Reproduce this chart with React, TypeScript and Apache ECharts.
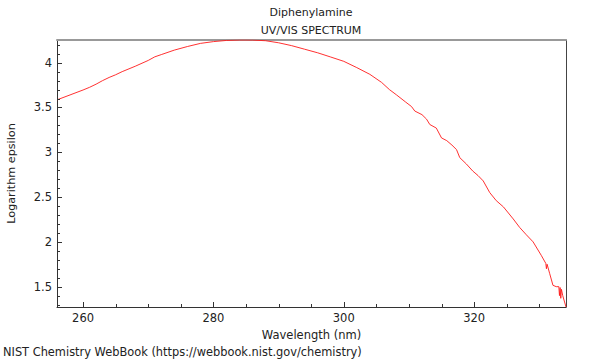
import React, { useEffect, useRef } from "react";
import * as echarts from "echarts";

const wavelengths = [
  256.0, 258, 260, 261, 262, 263, 264, 265, 266, 268, 270, 271, 272, 274, 276, 278, 280, 282, 284, 285, 286, 288, 290,
  292, 294, 296, 298, 300, 302, 304, 305.8, 307, 308.1, 309.5, 310.4, 310.9, 312, 312.7, 313.2, 314.2, 315.0, 315.8,
  316.6, 317.3, 317.8, 318.8, 319.8, 320.6, 321.4, 322.4, 323.4, 324.5, 326.0, 327, 328, 329.05, 330.3, 331.0, 331.1,
  331.2, 331.6, 332.1, 332.6, 333.0, 333.1, 333.2, 333.3, 333.4, 333.6, 334.1,
];
const logEpsilon = [
  3.585, 3.64, 3.695, 3.725, 3.76, 3.8, 3.835, 3.865, 3.9, 3.96, 4.025, 4.065, 4.09, 4.14, 4.18, 4.215, 4.235, 4.248,
  4.253, 4.253, 4.252, 4.245, 4.222, 4.19, 4.15, 4.11, 4.063, 4.015, 3.945, 3.87, 3.78, 3.7, 3.64, 3.56, 3.51, 3.46,
  3.42, 3.37, 3.31, 3.27, 3.16, 3.13, 3.08, 3.03, 2.94, 2.87, 2.79, 2.74, 2.68, 2.55, 2.46, 2.39, 2.256, 2.16, 2.08,
  2.0, 1.85, 1.76, 1.7, 1.75, 1.645, 1.515, 1.5, 1.5, 1.4, 1.49, 1.37, 1.47, 1.4, 1.273,
];

const xMajorTicks = [260, 280, 300, 320];
const xMinorTicks = [265, 270, 275, 285, 290, 295, 305, 310, 315, 325, 330];
const yMajorTicks = [1.5, 2, 2.5, 3, 3.5, 4];
const yMinorTicks = [1.3, 1.4, 1.6, 1.7, 1.8, 1.9, 2.1, 2.2, 2.3, 2.4, 2.6, 2.7, 2.8, 2.9, 3.1, 3.2, 3.3, 3.4, 3.6, 3.7, 3.8, 3.9, 4.1, 4.2];

const X_MIN = 256;
const X_MAX = 334.1;
const Y_MIN = 1.273;
const Y_MAX = 4.253;

const FONT = "DejaVu Sans";
const TICK_COLOR = "#333";

function tickSeries(values: number[], horizontalAxis: boolean, len: number) {
  return {
    type: "custom",
    silent: true,
    clip: false,
    z: 5,
    encode: { x: 0, y: 1 },
    data: values.map((v) => (horizontalAxis ? [v, Y_MIN] : [X_MIN, v])),
    renderItem: (_params: any, api: any) => {
      const p = api.coord([api.value(0), api.value(1)]);
      if (horizontalAxis) {
        const x = Math.round(p[0]) + 0.5;
        const y = Math.round(p[1]);
        return { type: "line", shape: { x1: x, y1: y, x2: x, y2: y - len }, style: { stroke: TICK_COLOR, lineWidth: 1 } };
      }
      const x = Math.round(p[0]);
      const y = Math.round(p[1]) + 0.5;
      return { type: "line", shape: { x1: x, y1: y, x2: x + len, y2: y }, style: { stroke: TICK_COLOR, lineWidth: 1 } };
    },
  };
}

export default function App() {
  const ref = useRef<HTMLDivElement>(null);
  useEffect(() => {
    document.body.style.margin = "0";
    const chart = echarts.init(ref.current!, null, { renderer: "svg" });
    const axisBase = { type: "value" as const, min: X_MIN, max: X_MAX, splitLine: { show: false } };
    const yBase = { type: "value" as const, min: Y_MIN, max: Y_MAX, splitLine: { show: false } };
    chart.setOption({
      animation: false,
      backgroundColor: "#fff",
      grid: { left: 57, right: 34, top: 40, bottom: 53, containLabel: false, outerBoundsMode: "none" },
      graphic: [
        { type: "text", x: 311, y: 12, style: { text: "Diphenylamine", font: `11px '${FONT}'`, fill: "#222", textAlign: "center", textVerticalAlign: "middle" } },
        { type: "text", x: 311, y: 30, style: { text: "UV/VIS SPECTRUM", font: `11px '${FONT}'`, fill: "#222", textAlign: "center", textVerticalAlign: "middle" } },
        { type: "text", x: 3, y: 352, style: { text: "NIST Chemistry WebBook (https://webbook.nist.gov/chemistry)", font: `11.4px '${FONT}'`, fill: "#222", textAlign: "left", textVerticalAlign: "middle" } },
      ],
      xAxis: [
        {
          ...axisBase,
          position: "bottom",
          name: "Wavelength (nm)",
          nameLocation: "middle",
          nameGap: 19,
          nameTextStyle: { fontFamily: FONT, fontSize: 11.5, color: "#222" },
          axisLine: { show: true, lineStyle: { color: "#333", width: 1 } },
          axisTick: { show: false },
          axisLabel: { show: true, margin: 5, fontFamily: FONT, fontSize: 11.5, color: "#222", customValues: xMajorTicks },
        },
        {
          ...axisBase,
          position: "top",
          axisLine: { show: true, lineStyle: { color: "#999", width: 2 } },
          axisTick: { show: false },
          axisLabel: { show: false },
        },
      ],
      yAxis: [
        {
          ...yBase,
          position: "left",
          name: "Logarithm epsilon",
          nameLocation: "middle",
          nameGap: 40,
          nameTextStyle: { fontFamily: FONT, fontSize: 11.2, color: "#222" },
          axisLine: { show: true, lineStyle: { color: "#333", width: 1 } },
          axisTick: { show: false },
          axisLabel: { show: true, margin: 5, fontFamily: FONT, fontSize: 11.5, color: "#222", customValues: yMajorTicks },
        },
        {
          ...yBase,
          position: "right",
          axisLine: { show: true, lineStyle: { color: "#444", width: 1 } },
          axisTick: { show: false },
          axisLabel: { show: false },
        },
      ],
      series: [
        {
          type: "line",
          xAxisIndex: 0,
          yAxisIndex: 0,
          data: wavelengths.map((w, i) => [w, logEpsilon[i]]),
          showSymbol: false,
          symbol: "none",
          lineStyle: { color: "#ff1a1a", width: 0.9 },
          silent: true,
        },
        tickSeries(xMajorTicks, true, 5),
        tickSeries(xMinorTicks, true, 3),
        tickSeries(yMajorTicks, false, 5),
        tickSeries(yMinorTicks, false, 3),
      ],
    });
    return () => chart.dispose();
  }, []);
  return <div ref={ref} style={{ width: 600, height: 360 }} />;
}
